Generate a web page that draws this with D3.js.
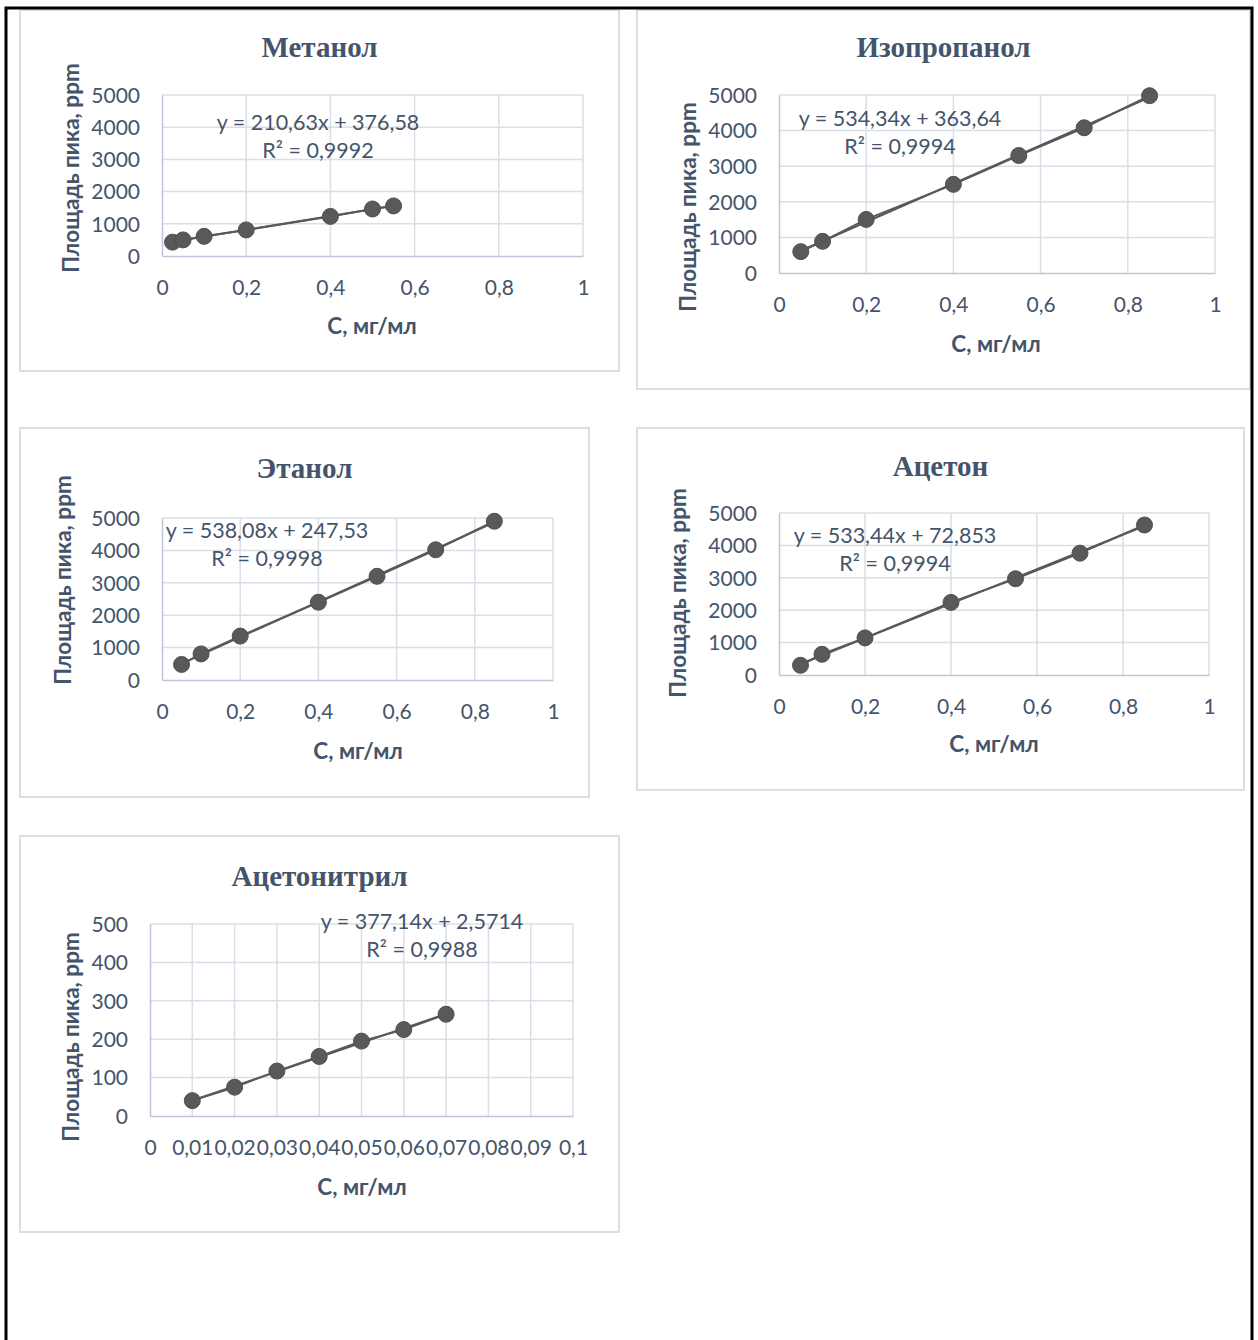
<!DOCTYPE html>
<html>
<head>
<meta charset="utf-8">
<script src="https://cdn.jsdelivr.net/npm/d3@7/dist/d3.min.js"></script>
<style>
  html, body { margin: 0; padding: 0; background: #ffffff; }
  svg { display: block; }
</style>
</head>
<body>
<svg id="chart" width="1258" height="1340"></svg>
<script>
// Calibration data: concentration (mg/ml) vs. peak area (ppm)
const titles = ["Метанол", "Изопропанол", "Этанол", "Ацетон", "Ацетонитрил"];

const methanolConc = [0.025, 0.05, 0.1, 0.2, 0.4, 0.5, 0.55];
const methanolArea = [430, 500, 610, 810, 1230, 1460, 1555];

const isopropanolConc = [0.05, 0.1, 0.2, 0.4, 0.55, 0.7, 0.85];
const isopropanolArea = [600, 890, 1505, 2490, 3300, 4080, 4980];

const ethanolConc = [0.05, 0.1, 0.2, 0.4, 0.55, 0.7, 0.85];
const ethanolArea = [480, 805, 1355, 2400, 3200, 4020, 4900];

const acetoneConc = [0.05, 0.1, 0.2, 0.4, 0.55, 0.7, 0.85];
const acetoneArea = [300, 640, 1145, 2240, 2970, 3760, 4630];

const acetonitrileConc = [0.01, 0.02, 0.03, 0.04, 0.05, 0.06, 0.07];
const acetonitrileArea = [40, 75, 117, 155, 195, 225, 265];

// Trendline labels
const equations = [
  "y = 210,63x + 376,58",
  "y = 534,34x + 363,64",
  "y = 538,08x + 247,53",
  "y = 533,44x + 72,853",
  "y = 377,14x + 2,5714"
];
const rSquared = ["R² = 0,9992", "R² = 0,9994", "R² = 0,9998", "R² = 0,9994", "R² = 0,9988"];

// Axis ticks
const concTicks = [0, 0.2, 0.4, 0.6, 0.8, 1];
const concTicksSmall = [0, 0.01, 0.02, 0.03, 0.04, 0.05, 0.06, 0.07, 0.08, 0.09, 0.1];
const areaTicks = [0, 1000, 2000, 3000, 4000, 5000];
const areaTicksSmall = [0, 100, 200, 300, 400, 500];

const xAxisTitle = "C, мг/мл";
const yAxisTitle = "Площадь пика, ppm";

// Chart layout (frame box, plot box, label anchors)
const layout = [
  { box: [20, 10, 619, 371], plot: [162, 95, 583, 256], titleY: 47, yTitleX: 70, yTitleY: 168, xTitleX: 372, xTitleY: 325, eqX: 318, eqY: 122 },
  { box: [637, 10, 1250, 389], plot: [779, 95, 1215, 273], titleY: 47, yTitleX: 687, yTitleY: 207, xTitleX: 996, xTitleY: 343, eqX: 900, eqY: 118 },
  { box: [20, 428, 589, 797], plot: [162, 518, 553, 680], titleY: 468, yTitleX: 62, yTitleY: 580, xTitleX: 358, xTitleY: 750, eqX: 267, eqY: 530 },
  { box: [637, 428, 1244, 790], plot: [779, 513, 1209, 675], titleY: 466, yTitleX: 677, yTitleY: 593, xTitleX: 994, xTitleY: 743, eqX: 895, eqY: 535 },
  { box: [20, 836, 619, 1232], plot: [150, 924, 573, 1116], titleY: 876, yTitleX: 70, yTitleY: 1037, xTitleX: 362, xTitleY: 1186, eqX: 422, eqY: 921 }
];

const series = [
  { conc: methanolConc, area: methanolArea, xt: concTicks, yt: areaTicks },
  { conc: isopropanolConc, area: isopropanolArea, xt: concTicks, yt: areaTicks },
  { conc: ethanolConc, area: ethanolArea, xt: concTicks, yt: areaTicks },
  { conc: acetoneConc, area: acetoneArea, xt: concTicks, yt: areaTicks },
  { conc: acetonitrileConc, area: acetonitrileArea, xt: concTicksSmall, yt: areaTicksSmall }
];

const TEXT = "#44546a";
const GRID = "#d9dee7";
const AXIS = "#bcc6d6";
const MARK = "#595959";
const SANS = "Lato, 'Open Sans', sans-serif";
const SERIF = "'Liberation Serif', 'Times New Roman', serif";

const commaNum = v => String(v).replace(".", ",");

const svg = d3.select("#chart");
svg.append("rect").attr("width", 1258).attr("height", 1340).attr("fill", "#fff");

// least squares fit used for the trendline
function fit(xs, ys) {
  const n = xs.length;
  const mx = d3.mean(xs), my = d3.mean(ys);
  let sxy = 0, sxx = 0;
  for (let i = 0; i < n; i++) { sxy += (xs[i] - mx) * (ys[i] - my); sxx += (xs[i] - mx) ** 2; }
  const k = sxy / sxx;
  return { k, b: my - k * mx };
}

layout.forEach((L, i) => {
  const S = series[i];
  const g = svg.append("g");
  const [bx0, by0, bx1, by1] = L.box;
  const [px0, py0, px1, py1] = L.plot;

  // chart area border
  g.append("rect")
    .attr("x", bx0).attr("y", by0)
    .attr("width", bx1 - bx0).attr("height", by1 - by0)
    .attr("fill", "#fff").attr("stroke", GRID).attr("stroke-width", 2);

  const x = d3.scaleLinear().domain([S.xt[0], S.xt[S.xt.length - 1]]).range([px0, px1]);
  const y = d3.scaleLinear().domain([S.yt[0], S.yt[S.yt.length - 1]]).range([py1, py0]);

  // gridlines
  g.append("g").selectAll("line.h").data(S.yt.slice(1)).join("line")
    .attr("x1", px0).attr("x2", px1)
    .attr("y1", d => y(d)).attr("y2", d => y(d))
    .attr("stroke", GRID).attr("stroke-width", 1.5);
  g.append("g").selectAll("line.v").data(S.xt.slice(1)).join("line")
    .attr("y1", py0).attr("y2", py1)
    .attr("x1", d => x(d)).attr("x2", d => x(d))
    .attr("stroke", GRID).attr("stroke-width", 1.5);

  // axes
  const ya = g.append("g").attr("transform", `translate(${px0},0)`)
    .call(d3.axisLeft(y).tickValues(S.yt).tickSize(0).tickPadding(22).tickFormat(d => commaNum(d)));
  ya.select(".domain").attr("stroke", AXIS).attr("stroke-width", 1.5);
  ya.selectAll("text").attr("font-family", SANS).attr("font-size", 21).attr("fill", TEXT).attr("dy", "0.35em");

  const xa = g.append("g").attr("transform", `translate(0,${py1})`)
    .call(d3.axisBottom(x).tickValues(S.xt).tickSize(0).tickFormat(d => commaNum(d)));
  xa.select(".domain").attr("stroke", AXIS).attr("stroke-width", 1.5);
  xa.selectAll("text").attr("font-family", SANS).attr("font-size", 21).attr("fill", TEXT)
    .attr("y", 32).attr("dy", "0.35em");

  // title
  g.append("text").attr("x", (bx0 + bx1) / 2).attr("y", L.titleY)
    .attr("text-anchor", "middle").attr("dominant-baseline", "central")
    .attr("font-family", SERIF).attr("font-weight", "bold").attr("font-size", 29)
    .attr("fill", TEXT).text(titles[i]);

  // axis titles
  g.append("text").attr("transform", `translate(${L.yTitleX},${L.yTitleY}) rotate(-90)`)
    .attr("text-anchor", "middle").attr("dominant-baseline", "central")
    .attr("font-family", SANS).attr("font-weight", "bold").attr("font-size", 22.5)
    .attr("fill", TEXT).text(yAxisTitle);
  g.append("text").attr("x", L.xTitleX).attr("y", L.xTitleY)
    .attr("text-anchor", "middle").attr("dominant-baseline", "central")
    .attr("font-family", SANS).attr("font-weight", "bold").attr("font-size", 22.5)
    .attr("fill", TEXT).text(xAxisTitle);

  // trendline + connecting line + markers
  const pts = S.conc.map((c, j) => [c, S.area[j]]);
  const f = fit(S.conc, S.area);
  const xmin = d3.min(S.conc), xmax = d3.max(S.conc);
  g.append("line")
    .attr("x1", x(xmin)).attr("y1", y(f.k * xmin + f.b))
    .attr("x2", x(xmax)).attr("y2", y(f.k * xmax + f.b))
    .attr("stroke", MARK).attr("stroke-width", 2);
  g.append("path").datum(pts)
    .attr("d", d3.line().x(d => x(d[0])).y(d => y(d[1])))
    .attr("fill", "none").attr("stroke", MARK).attr("stroke-width", 2);
  g.append("g").selectAll("circle").data(pts).join("circle")
    .attr("cx", d => x(d[0])).attr("cy", d => y(d[1])).attr("r", 8)
    .attr("fill", MARK).attr("stroke", "#505050").attr("stroke-width", 1);

  // trendline equation
  g.append("text").attr("x", L.eqX).attr("y", L.eqY)
    .attr("text-anchor", "middle").attr("dominant-baseline", "central")
    .attr("font-family", SANS).attr("font-size", 21.5).attr("fill", TEXT).text(equations[i]);
  g.append("text").attr("x", L.eqX).attr("y", L.eqY + 28)
    .attr("text-anchor", "middle").attr("dominant-baseline", "central")
    .attr("font-family", SANS).attr("font-size", 21.5).attr("fill", TEXT).text(rSquared[i]);
});

// page frame
svg.append("path")
  .attr("d", "M6,1340 V8 H1252 V1340")
  .attr("fill", "none").attr("stroke", "#000").attr("stroke-width", 3);
</script>
</body>
</html>
